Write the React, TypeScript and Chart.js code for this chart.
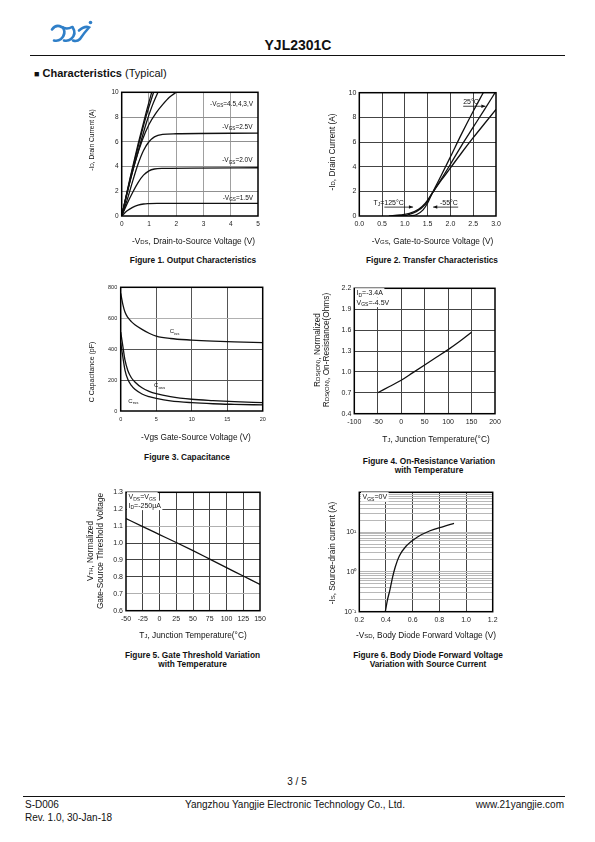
import React, { useEffect, useRef } from "react";
import { Chart, registerables } from "chart.js";

Chart.register(...registerables);

const FONT = "'Liberation Sans', Arial, Helvetica, sans-serif";

/* ---------------- Figure 1: Output characteristics ---------------- */
const F1_X_TICKS = [0, 1, 2, 3, 4, 5];
const F1_Y_TICKS = [0, 2, 4, 6, 8, 10];
const F1_VGS45_X = [0, 0.3, 0.6, 0.9, 1.1];
const F1_VGS45_Y = [0, 3.0, 5.8, 8.4, 10];
const F1_VGS4_X = [0, 0.3, 0.6, 0.9, 1.17];
const F1_VGS4_Y = [0, 2.9, 5.6, 8.1, 10];
const F1_VGS35_X = [0, 0.3, 0.6, 0.9, 1.1, 1.33];
const F1_VGS35_Y = [0, 2.8, 5.2, 7.5, 8.8, 10];
const F1_VGS3_X = [0, 0.25, 0.5, 0.75, 1.0, 1.25, 1.5, 1.75, 2.0];
const F1_VGS3_Y = [0, 2.3, 4.4, 6.1, 7.4, 8.3, 9.0, 9.6, 10];
const F1_VGS25_X = [0, 0.2, 0.4, 0.6, 0.8, 1.0, 1.2, 1.5, 2.0, 5.0];
const F1_VGS25_Y = [0, 1.3, 2.8, 4.2, 5.3, 6.0, 6.4, 6.6, 6.65, 6.7];
const F1_VGS20_X = [0, 0.2, 0.4, 0.6, 0.8, 1.0, 1.2, 1.5, 5.0];
const F1_VGS20_Y = [0, 1.0, 1.9, 2.7, 3.3, 3.65, 3.8, 3.85, 3.9];
const F1_VGS15_X = [0, 0.2, 0.4, 0.6, 0.8, 1.0, 1.3, 5.0];
const F1_VGS15_Y = [0, 0.42, 0.7, 0.88, 0.97, 1.0, 1.02, 1.02];

/* ---------------- Figure 2: Transfer characteristics ---------------- */
const F2_X_TICKS = [0, 0.5, 1, 1.5, 2, 2.5, 3];
const F2_Y_TICKS = [0, 2, 4, 6, 8, 10];
const F2_T125_X = [0.65, 0.9, 1.1, 1.3, 1.45, 1.6, 1.8, 2.0, 2.25, 2.5, 2.75, 3.0];
const F2_T125_Y = [0, 0.08, 0.22, 0.55, 1.05, 1.85, 2.9, 3.9, 5.15, 6.35, 7.5, 8.65];
const F2_T25_X = [0.85, 1.05, 1.25, 1.45, 1.6, 1.8, 2.0, 2.25, 2.5, 2.75, 2.98];
const F2_T25_Y = [0, 0.08, 0.35, 0.95, 1.85, 3.0, 4.2, 5.75, 7.2, 8.65, 10];
const F2_TM55_X = [1.1, 1.25, 1.4, 1.5, 1.6, 1.8, 2.0, 2.25, 2.5, 2.72];
const F2_TM55_Y = [0, 0.1, 0.5, 1.05, 1.85, 3.3, 4.8, 6.7, 8.5, 10];

/* ---------------- Figure 3: Capacitance ---------------- */
const F3_X_TICKS = [0, 5, 10, 15, 20];
const F3_Y_TICKS = [0, 200, 400, 600, 800];
const F3_VGS = [0, 0.3, 0.6, 1, 1.5, 2, 3, 4, 5, 7, 10, 13, 16, 20];
const F3_CISS = [760, 690, 640, 605, 578, 558, 528, 503, 485, 469, 459, 452, 447, 442];
const F3_COSS = [510, 420, 330, 262, 215, 188, 150, 127, 112, 93, 76, 67, 60, 54];
const F3_CRSS = [440, 350, 265, 205, 165, 140, 110, 93, 82, 66, 54, 47, 43, 39];

/* ---------------- Figure 4: On-resistance vs temperature ---------------- */
const F4_X_TICKS = [-100, -50, 0, 50, 100, 150, 200];
const F4_Y_TICKS = [0.4, 0.7, 1.0, 1.3, 1.6, 1.9, 2.2];
const F4_TJ = [-50, -25, 0, 25, 50, 75, 100, 125, 150];
const F4_RDS = [0.70, 0.79, 0.88, 0.99, 1.10, 1.21, 1.32, 1.44, 1.57];

/* ---------------- Figure 5: Gate threshold vs temperature ---------------- */
const F5_X_TICKS = [-50, -25, 0, 25, 50, 75, 100, 125, 150];
const F5_Y_TICKS = [0.6, 0.7, 0.8, 0.9, 1.0, 1.1, 1.2, 1.3];
const F5_TJ = [-50, -25, 0, 25, 50, 75, 100, 125, 150];
const F5_VTH = [1.145, 1.097, 1.05, 1.003, 0.955, 0.905, 0.855, 0.805, 0.755];

/* ---------------- Figure 6: Body diode forward voltage ---------------- */
const F6_X_TICKS = [0.2, 0.4, 0.6, 0.8, 1.0, 1.2];
const F6_Y_TICKS = [0.1, 0.2, 0.3, 0.4, 0.5, 0.6, 0.7, 0.8, 0.9, 1, 2, 3, 4, 5, 6, 7, 8, 9, 10, 20, 30, 40, 50, 60, 70, 80, 90, 100];
const F6_Y_LABELS: Record<string, string> = { "0.1": "10\u207B\u00B9", "1": "10\u2070", "10": "10\u00B9" };
const F6_VSD = [0.395, 0.41, 0.43, 0.45, 0.47, 0.5, 0.55, 0.63, 0.73, 0.83, 0.91];
const F6_IS = [0.1, 0.19, 0.36, 0.75, 1.35, 2.5, 4.4, 7.3, 10.8, 13.8, 16.5];

/* ---------------- helpers ---------------- */
type Lbl = {
  text: string;
  x: number;
  y: number;
  data?: boolean;
  size?: number;
  align?: "left" | "center" | "right";
  rot?: boolean;
  bold?: boolean;
  bg?: boolean;
};

type Spec = {
  box: number[];
  plot: number[];
  datasets: any[];
  x: any;
  y: any;
  labels: Lbl[];
  arrows?: number[][];
};

const pts = (xs: number[], ys: number[]) => xs.map((x, i) => ({ x, y: ys[i] }));

const curve = (xs: number[], ys: number[]) => ({
  data: pts(xs, ys),
  borderColor: "#111",
  borderWidth: 1.3,
  pointRadius: 0,
  fill: false,
  cubicInterpolationMode: "monotone",
});

function parseRich(s: string) {
  const out: { t: string; k: string }[] = [];
  const re = /([_~^])\{([^}]*)\}/g;
  let last = 0;
  let m: RegExpExecArray | null;
  while ((m = re.exec(s))) {
    if (m.index > last) out.push({ t: s.slice(last, m.index), k: "n" });
    out.push({ t: m[2], k: m[1] === "_" ? "sub" : m[1] === "~" ? "sc" : "sup" });
    last = re.lastIndex;
  }
  if (last < s.length) out.push({ t: s.slice(last), k: "n" });
  return out;
}

function drawRich(ctx: CanvasRenderingContext2D, x: number, y: number, o: Lbl) {
  const size = o.size ?? 7;
  const segs = parseRich(o.text);
  const f = (k: string) =>
    `${o.bold ? "bold " : ""}${k === "n" ? size : (size * 0.72).toFixed(2)}px ${FONT}`;
  const widths = segs.map((sg) => {
    ctx.font = f(sg.k);
    return ctx.measureText(sg.t).width;
  });
  const total = widths.reduce((a, b) => a + b, 0);
  ctx.save();
  ctx.translate(x, y);
  if (o.rot) ctx.rotate(-Math.PI / 2);
  let sx = o.align === "center" ? -total / 2 : o.align === "right" ? -total : 0;
  if (o.bg) {
    ctx.fillStyle = "#fff";
    ctx.fillRect(sx - 1.5, -size * 0.62, total + 3, size * 1.35);
  }
  ctx.fillStyle = "#111";
  ctx.textAlign = "left";
  ctx.textBaseline = "alphabetic";
  const base = size * 0.36;
  segs.forEach((sg, i) => {
    ctx.font = f(sg.k);
    const dy = sg.k === "sub" ? size * 0.22 : sg.k === "sup" ? -size * 0.42 : 0;
    ctx.fillText(sg.t, sx, base + dy);
    sx += widths[i];
  });
  ctx.restore();
}

function axis(
  type: string,
  min: number,
  max: number,
  ticks: number[],
  size: number,
  fmt: (v: number) => string,
  gridColor: (v: number) => string,
  pad: number
) {
  return {
    type,
    min,
    max,
    afterBuildTicks: (s: any) => {
      s.ticks = ticks.map((v) => ({ value: v }));
    },
    ticks: {
      autoSkip: false,
      maxRotation: 0,
      minRotation: 0,
      padding: pad,
      color: "#222",
      font: { family: FONT, size },
      callback: (v: any) => fmt(Number(v)),
    },
    grid: {
      drawTicks: false,
      lineWidth: 1,
      color: (c: any) => {
        const v = c.tick ? c.tick.value : NaN;
        return v === min || v === max ? "rgba(0,0,0,0)" : gridColor(v);
      },
    },
    border: { display: false },
  };
}

const str = (v: number) => String(v);
const fix1 = (v: number) => v.toFixed(1);
const near = (a: number, b: number) => Math.abs(a - b) < 1e-6;

function Figure({ spec }: { spec: Spec }) {
  const ref = useRef<HTMLCanvasElement>(null);
  useEffect(() => {
    const [cx, cy, cw, ch] = spec.box;
    const [pl, pt, pr, pb] = spec.plot;
    const overlay = {
      id: "overlay",
      afterDraw(chart: any) {
        const ctx: CanvasRenderingContext2D = chart.ctx;
        const a = chart.chartArea;
        const xs = chart.scales.x;
        const ys = chart.scales.y;
        ctx.save();
        ctx.strokeStyle = "#000";
        ctx.lineWidth = 1.5;
        ctx.strokeRect(a.left, a.top, a.right - a.left, a.bottom - a.top);
        ctx.restore();
        (spec.arrows || []).forEach((ar) => {
          const x1 = xs.getPixelForValue(ar[0]);
          const y1 = ys.getPixelForValue(ar[1]);
          const x2 = xs.getPixelForValue(ar[2]);
          const y2 = ys.getPixelForValue(ar[3]);
          const ang = Math.atan2(y2 - y1, x2 - x1);
          ctx.save();
          ctx.strokeStyle = "#111";
          ctx.fillStyle = "#111";
          ctx.lineWidth = 0.8;
          ctx.beginPath();
          ctx.moveTo(x1, y1);
          ctx.lineTo(x2, y2);
          ctx.stroke();
          ctx.beginPath();
          ctx.moveTo(x2, y2);
          ctx.lineTo(x2 - 4.5 * Math.cos(ang - 0.4), y2 - 4.5 * Math.sin(ang - 0.4));
          ctx.lineTo(x2 - 4.5 * Math.cos(ang + 0.4), y2 - 4.5 * Math.sin(ang + 0.4));
          ctx.closePath();
          ctx.fill();
          ctx.restore();
        });
        spec.labels.forEach((l) => {
          const px = l.data ? xs.getPixelForValue(l.x) : l.x - cx;
          const py = l.data ? ys.getPixelForValue(l.y) : l.y - cy;
          drawRich(ctx, px, py, l);
        });
      },
    };
    const chart = new Chart(ref.current as HTMLCanvasElement, {
      type: "line",
      data: { datasets: spec.datasets },
      options: {
        responsive: false,
        animation: false,
        devicePixelRatio: 1,
        layout: { padding: { left: 0, top: pt - cy, right: cx + cw - pr, bottom: 0 } },
        plugins: { legend: { display: false }, tooltip: { enabled: false } },
        scales: {
          x: {
            ...spec.x,
            position: "bottom",
            afterFit: (s: any) => {
              s.height = cy + ch - pb;
            },
          },
          y: {
            ...spec.y,
            position: "left",
            afterFit: (s: any) => {
              s.width = pl - cx;
            },
          },
        },
      } as any,
      plugins: [overlay],
    } as any);
    return () => chart.destroy();
  }, []);
  return (
    <canvas
      ref={ref}
      width={spec.box[2]}
      height={spec.box[3]}
      style={{ position: "absolute", left: spec.box[0], top: spec.box[1], width: spec.box[2], height: spec.box[3] }}
    />
  );
}

function Txt(props: { x: number; y: number; a?: "left" | "center" | "right"; size?: number; bold?: boolean; children: any }) {
  const { x, y, a = "left", size = 10, bold = false, children } = props;
  const w = 400;
  const left = a === "left" ? x : a === "center" ? x - w / 2 : x - w;
  return (
    <div
      style={{
        position: "absolute",
        left,
        top: y - size,
        width: w,
        height: size * 2,
        lineHeight: `${size * 2}px`,
        fontSize: size,
        fontFamily: FONT,
        fontWeight: bold ? 700 : 400,
        textAlign: a,
        color: "#111",
        whiteSpace: "nowrap",
      }}
    >
      {children}
    </div>
  );
}

function Logo() {
  const c = "#2f7fc8";
  return (
    <svg width={100} height={50} style={{ position: "absolute", left: 0, top: 0 }}>
      <g fill="none" stroke={c} strokeWidth={2.6} strokeLinecap="round">
        <path d="M52 29.5 Q56 24 61.5 27 Q67 30 72 27" />
        <path d="M63 27.5 Q66.5 34 61 39 Q58 41.5 54 40.5" />
        <path d="M72.5 27 Q77 34 71 39 Q68 41.5 64 40.5" />
        <path d="M79 30.5 Q85 25.5 89 27.5 Q84 33 80 39 Q77 42 73 40.5" />
      </g>
      <circle cx={90.5} cy={22.5} r={1.8} fill={c} />
    </svg>
  );
}

export default function App() {
  const figs: Spec[] = [
    {
      box: [78, 84, 190, 166],
      plot: [121.7, 92.3, 258, 216],
      datasets: [
        curve(F1_VGS45_X, F1_VGS45_Y),
        curve(F1_VGS4_X, F1_VGS4_Y),
        curve(F1_VGS35_X, F1_VGS35_Y),
        curve(F1_VGS3_X, F1_VGS3_Y),
        curve(F1_VGS25_X, F1_VGS25_Y),
        curve(F1_VGS20_X, F1_VGS20_Y),
        curve(F1_VGS15_X, F1_VGS15_Y),
      ],
      x: axis("linear", 0, 5, F1_X_TICKS, 6.5, str, () => "#a0a0a0", 4),
      y: axis("linear", 0, 10, F1_Y_TICKS, 6.5, str, () => "#909090", 3),
      labels: [
        { text: "-I~{D}, Drain Current (A)", x: 92, y: 140, rot: true, align: "center", size: 6.6 },
        { text: "-V~{DS}, Drain-to-Source Voltage (V)", x: 193.5, y: 240.7, align: "center", size: 8.3 },
        { text: "-V_{GS}=4.5,4,3,V", x: 4.82, y: 9.1, data: true, align: "right", size: 6.5 },
        { text: "-V_{GS}=2.5V", x: 4.8, y: 7.22, data: true, align: "right", size: 6.5 },
        { text: "-V_{GS}=2.0V", x: 4.8, y: 4.53, data: true, align: "right", size: 6.5 },
        { text: "-V_{GS}=1.5V", x: 4.82, y: 1.51, data: true, align: "right", size: 6.5 },
      ],
    },
    {
      box: [318, 84, 190, 166],
      plot: [359.3, 92.7, 496, 216],
      datasets: [curve(F2_T125_X, F2_T125_Y), curve(F2_T25_X, F2_T25_Y), curve(F2_TM55_X, F2_TM55_Y)],
      x: axis("linear", 0, 3, F2_X_TICKS, 7, fix1, () => "#444", 4),
      y: axis("linear", 0, 10, F2_Y_TICKS, 7, str, () => "#444", 3),
      labels: [
        { text: "-I~{D}, Drain Current (A)", x: 331.7, y: 152, rot: true, align: "center", size: 8.3 },
        { text: "-V~{GS}, Gate-to-Source Voltage (V)", x: 432.5, y: 240.7, align: "center", size: 8.3 },
        { text: "25\u00B0C", x: 2.28, y: 9.3, data: true, size: 7 },
        { text: "T_{J}=125\u00B0C", x: 0.31, y: 1.1, data: true, size: 7 },
        { text: "-55\u00B0C", x: 1.77, y: 1.1, data: true, size: 7 },
      ],
      arrows: [
        [2.28, 8.9, 2.77, 8.9],
        [0.55, 0.72, 1.18, 0.72],
        [2.17, 0.72, 1.62, 0.72],
      ],
    },
    {
      box: [78, 278, 195, 168],
      plot: [120.7, 287.3, 262.7, 411],
      datasets: [curve(F3_VGS, F3_CISS), curve(F3_VGS, F3_COSS), curve(F3_VGS, F3_CRSS)],
      x: axis("linear", 0, 20, F3_X_TICKS, 5.5, str, () => "#555", 4.7),
      y: axis("linear", 0, 800, F3_Y_TICKS, 5.5, str, (v) => (near(v, 600) ? "#b0b0b0" : "#555"), 3.5),
      labels: [
        { text: "C Capacitance (pF)", x: 91.7, y: 372, rot: true, align: "center", size: 7 },
        { text: "-Vgs Gate-Source Voltage (V)", x: 196, y: 437.3, align: "center", size: 8.3 },
        { text: "C_{iss}", x: 6.9, y: 517, data: true, size: 6 },
        { text: "C_{oss}", x: 4.7, y: 166, data: true, size: 6 },
        { text: "C_{rss}", x: 1.07, y: 67, data: true, size: 6 },
      ],
    },
    {
      box: [306, 280, 202, 168],
      plot: [354.3, 288.3, 495, 413.7],
      datasets: [curve(F4_TJ, F4_RDS)],
      x: axis("linear", -100, 200, F4_X_TICKS, 7, str, () => "#444", 4),
      y: axis("linear", 0.4, 2.2, F4_Y_TICKS, 7, fix1, () => "#444", 3),
      labels: [
        { text: "R~{DS(ON)}, Normalized", x: 317, y: 350, rot: true, align: "center", size: 8.3 },
        { text: "R~{DS(ON)}, On-Resistance(Ohms)", x: 326.5, y: 350, rot: true, align: "center", size: 8.3 },
        { text: "T~{J}, Junction Temperature(\u00B0C)", x: 436, y: 439.3, align: "center", size: 8.3 },
        { text: "I_{D}=-3.4A", x: 356.5, y: 292.5, size: 7, bg: true },
        { text: "V_{GS}=-4.5V", x: 356.5, y: 302, size: 7, bg: true },
      ],
    },
    {
      box: [78, 484, 192, 162],
      plot: [126, 492.3, 260, 610.7],
      datasets: [curve(F5_TJ, F5_VTH)],
      x: axis("linear", -50, 150, F5_X_TICKS, 7, str, () => "#444", 4),
      y: axis("linear", 0.6, 1.3, F5_Y_TICKS, 7, fix1, (v) => (near(v, 1.1) || near(v, 0.7) ? "#b0b0b0" : "#444"), 3),
      labels: [
        { text: "V~{TH}, Normalized", x: 90.5, y: 551, rot: true, align: "center", size: 8.3 },
        { text: "Gate-Source Threshold Voltage", x: 100, y: 551, rot: true, align: "center", size: 8.3 },
        { text: "T~{J}, Junction Temperature(\u00B0C)", x: 193, y: 634.7, align: "center", size: 8.3 },
        { text: "V_{DS}=V_{GS}", x: 128.5, y: 496.5, size: 7, bg: true },
        { text: "I_{D}=-250\u03BCA", x: 128.5, y: 505, size: 7, bg: true },
      ],
    },
    {
      box: [310, 484, 192, 162],
      plot: [359.3, 492.3, 492.7, 611.7],
      datasets: [curve(F6_VSD, F6_IS)],
      x: axis("linear", 0.2, 1.2, F6_X_TICKS, 7, fix1, () => "#444", 4),
      y: axis("logarithmic", 0.1, 100, F6_Y_TICKS, 7, (v) => F6_Y_LABELS[String(v)] ?? "", () => "#b8b8b8", 3),
      labels: [
        { text: "-I~{S}, Source-drain current (A)", x: 331.7, y: 553, rot: true, align: "center", size: 8.3 },
        { text: "-V~{SD}, Body Diode Forward Voltage (V)", x: 426, y: 635.3, align: "center", size: 8.3 },
        { text: "V_{GS}=0V", x: 362.5, y: 496.5, size: 7, bg: true },
      ],
    },
  ];

  return (
    <div
      style={{
        position: "absolute",
        left: 0,
        top: 0,
        width: 595,
        height: 842,
        overflow: "hidden",
        background: "#fff",
        fontFamily: FONT,
        color: "#111",
      }}
    >
      <Logo />
      <Txt x={298} y={45} a="center" size={14} bold>
        YJL2301C
      </Txt>
      <div style={{ position: "absolute", left: 30, top: 54.5, width: 535, height: 1.3, background: "#111" }} />
      <div
        style={{
          position: "absolute",
          left: 34,
          top: 66,
          fontSize: 11,
          lineHeight: "14px",
          whiteSpace: "nowrap",
          fontFamily: FONT,
        }}
      >
        <span style={{ fontSize: 9 }}>{"\u25A0"}</span> <b>Characteristics</b> (Typical)
      </div>

      {figs.map((f, i) => (
        <Figure key={i} spec={f} />
      ))}

      <Txt x={193} y={260} a="center" size={8.3} bold>
        Figure 1. Output Characteristics
      </Txt>
      <Txt x={432} y={260} a="center" size={8.3} bold>
        Figure 2. Transfer Characteristics
      </Txt>
      <Txt x={187} y={457} a="center" size={8.3} bold>
        Figure 3. Capacitance
      </Txt>
      <Txt x={429} y={461} a="center" size={8.3} bold>
        Figure 4. On-Resistance Variation
      </Txt>
      <Txt x={429} y={470.5} a="center" size={8.3} bold>
        with Temperature
      </Txt>
      <Txt x={192.5} y={655} a="center" size={8.3} bold>
        Figure 5. Gate Threshold Variation
      </Txt>
      <Txt x={192.5} y={664.5} a="center" size={8.3} bold>
        with Temperature
      </Txt>
      <Txt x={428} y={655} a="center" size={8.3} bold>
        Figure 6. Body Diode Forward Voltage
      </Txt>
      <Txt x={428} y={664.5} a="center" size={8.3} bold>
        Variation with Source Current
      </Txt>

      <Txt x={297} y={782} a="center" size={10}>
        3 / 5
      </Txt>
      <div style={{ position: "absolute", left: 23, top: 795.5, width: 542, height: 1.3, background: "#111" }} />
      <Txt x={25} y={805} size={10}>
        S-D006
      </Txt>
      <Txt x={25} y={818} size={10}>
        Rev. 1.0, 30-Jan-18
      </Txt>
      <Txt x={185} y={805} size={10}>
        Yangzhou Yangjie Electronic Technology Co., Ltd.
      </Txt>
      <Txt x={564} y={805} a="right" size={10}>
        www.21yangjie.com
      </Txt>
    </div>
  );
}
